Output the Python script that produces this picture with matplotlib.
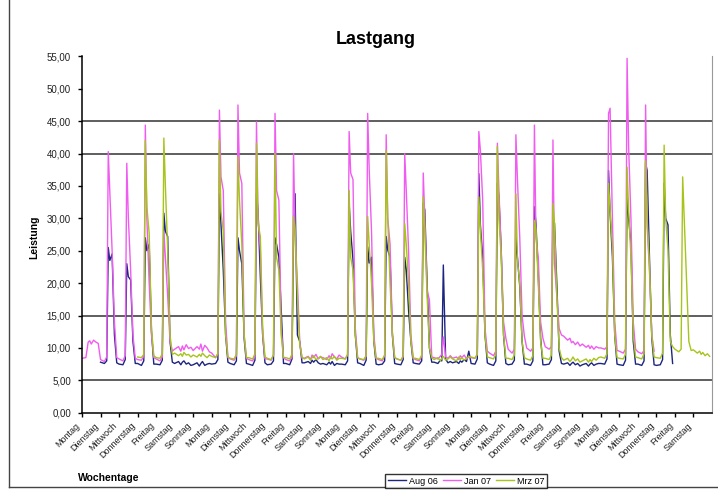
import numpy as np
import matplotlib.pyplot as plt
from matplotlib.lines import Line2D

plt.rcParams['font.family'] = ['Liberation Sans', 'DejaVu Sans']

# Wochentage auf der x-Achse (34 Tage, Start Montag)
tage = (["Montag", "Dienstag", "Mittwoch", "Donnerstag", "Freitag", "Samstag", "Sonntag"] * 5)[:34]
# Stuetzstellen je Tag (Uhrzeit)
stunden = [0, 5, 8, 10, 12, 15, 18, 21]

# Leistung je Tag an den Stuetzstellen, None = kein Messwert
aug06 = [
    None,
    [7.8, 7.6, 8.0, 25.5, 23.5, 24.5, 12.0, 7.7],
    [7.5, 7.4, 8.2, 23.0, 21.0, 20.5, 11.0, 7.6],
    [7.6, 7.3, 8.0, 27.0, 25.0, 26.0, 12.5, 7.5],
    [7.5, 7.4, 8.1, 30.8, 28.0, 27.2, 11.0, 7.8],
    [7.6, 7.9, 7.4, 7.8, 8.0, 7.5, 7.7, 7.3],
    [7.4, 7.7, 7.2, 7.6, 7.9, 7.3, 7.5, 7.6],
    [7.5, 7.6, 8.2, 33.8, 29.2, 22.0, 12.0, 7.8],
    [7.6, 7.4, 8.0, 27.0, 25.0, 23.0, 11.5, 7.6],
    [7.5, 7.3, 8.1, 33.8, 31.3, 21.0, 12.0, 7.7],
    [7.4, 7.5, 8.0, 27.0, 26.0, 24.0, 16.0, 7.6],
    [7.6, 7.4, 8.3, 27.0, 33.8, 12.0, 11.0, 7.7],
    [7.7, 7.9, 7.6, 8.1, 7.8, 8.2, 7.7, 7.5],
    [7.6, 7.4, 7.8, 7.5, 7.9, 7.3, 7.6, 7.5],
    [7.5, 7.4, 8.0, 32.3, 28.0, 23.6, 12.0, 7.7],
    [7.6, 7.3, 8.1, 25.6, 23.1, 24.0, 11.0, 7.5],
    [7.4, 7.5, 8.0, 27.2, 25.1, 24.0, 12.0, 7.6],
    [7.5, 7.4, 8.2, 24.0, 22.0, 15.8, 11.0, 7.7],
    [7.6, 7.5, 8.0, 32.3, 31.3, 20.0, 10.0, 7.8],
    [7.8, 7.6, 8.1, 8.0, 22.8, 8.3, 7.7, 7.9],
    [7.7, 7.9, 7.6, 8.0, 7.8, 8.2, 7.9, 9.5],
    [7.6, 7.5, 8.3, 36.9, 29.0, 24.1, 12.0, 7.7],
    [7.5, 7.3, 8.0, 35.4, 33.3, 25.0, 12.0, 7.6],
    [7.4, 7.5, 8.1, 27.2, 24.0, 19.5, 11.0, 7.5],
    [7.5, 7.3, 8.0, 31.8, 29.2, 21.0, 11.5, 7.4],
    [7.4, 7.5, 8.2, 30.3, 29.2, 20.0, 9.5, 7.6],
    [7.5, 7.7, 7.3, 7.6, 7.8, 7.4, 7.6, 7.2],
    [7.4, 7.6, 7.2, 7.5, 7.7, 7.3, 7.5, 7.6],
    [7.6, 7.5, 8.3, 37.4, 30.8, 24.1, 12.0, 7.5],
    [7.4, 7.3, 8.1, 33.8, 30.0, 26.1, 11.0, 7.5],
    [7.5, 7.3, 8.0, 38.5, 37.4, 24.0, 11.5, 7.4],
    [7.3, 7.4, 8.2, 35.4, 30.0, 29.0, 12.0, 7.6],
    None,
    None,
]

jan07 = [
    [8.4, 8.5, 10.9, 11.1, 10.6, 11.2, 10.9, 10.7],
    [8.2, 7.9, 8.6, 40.3, 34.3, 25.0, 14.0, 8.5],
    [8.3, 8.0, 8.8, 38.5, 30.2, 22.0, 12.0, 8.4],
    [8.2, 8.1, 8.7, 44.4, 30.0, 20.0, 12.0, 8.5],
    [8.3, 8.0, 8.6, 28.0, 24.0, 18.0, 11.0, 9.5],
    [9.8, 10.2, 9.5, 10.3, 9.7, 10.5, 9.9, 10.1],
    [9.6, 10.2, 9.8, 10.6, 9.5, 10.4, 10.0, 9.4],
    [9.2, 8.5, 9.0, 46.7, 36.4, 34.3, 14.0, 8.5],
    [8.3, 8.1, 8.8, 47.5, 37.0, 35.4, 12.0, 8.4],
    [8.2, 8.0, 8.7, 44.9, 30.0, 25.0, 12.0, 8.3],
    [8.3, 8.1, 8.9, 46.2, 34.3, 32.8, 13.0, 8.5],
    [8.2, 8.0, 8.6, 40.0, 27.7, 20.0, 11.0, 8.4],
    [8.4, 8.7, 8.2, 8.9, 8.5, 9.0, 8.3, 8.6],
    [8.5, 8.2, 8.8, 8.4, 9.1, 8.6, 8.3, 8.9],
    [8.6, 8.3, 8.9, 43.4, 37.0, 36.0, 13.0, 8.5],
    [8.3, 8.1, 8.7, 46.2, 37.5, 28.0, 12.0, 8.4],
    [8.2, 8.0, 8.8, 42.9, 30.0, 26.0, 12.5, 8.5],
    [8.3, 8.1, 8.6, 40.0, 34.3, 25.0, 12.0, 8.4],
    [8.2, 8.0, 8.7, 37.0, 30.0, 18.9, 17.4, 8.6],
    [8.5, 8.3, 8.7, 9.0, 11.7, 8.6, 8.4, 8.8],
    [8.4, 8.6, 8.2, 8.8, 8.5, 8.9, 8.3, 8.6],
    [8.5, 8.4, 9.0, 43.4, 40.5, 32.8, 13.0, 9.5],
    [9.2, 8.8, 9.5, 41.6, 34.3, 25.0, 14.0, 11.5],
    [9.8, 9.2, 9.8, 42.9, 36.0, 27.0, 15.0, 11.8],
    [10.0, 9.5, 10.0, 44.4, 27.0, 24.0, 14.0, 11.5],
    [10.2, 9.8, 10.2, 42.1, 23.0, 18.0, 13.0, 12.0],
    [11.8, 11.2, 11.5, 10.8, 11.0, 10.5, 10.9, 10.3],
    [10.6, 10.1, 10.4, 9.9, 10.3, 9.8, 10.2, 10.0],
    [10.0, 9.8, 10.2, 46.2, 47.0, 30.0, 14.0, 9.6],
    [9.5, 9.2, 9.8, 54.7, 41.1, 30.0, 14.0, 9.8],
    [9.4, 9.1, 9.6, 47.5, 28.7, 22.0, 12.0, 9.5],
    None,
    None,
    None,
]

mrz07 = [
    None,
    None,
    None,
    [8.6, 8.5, 9.0, 42.0, 31.8, 27.7, 13.0, 8.8],
    [8.5, 8.4, 9.1, 42.4, 35.0, 25.0, 12.0, 9.0],
    [9.2, 8.8, 9.1, 8.7, 9.3, 8.9, 9.0, 8.6],
    [8.9, 8.6, 9.0, 8.7, 9.2, 8.8, 8.5, 8.9],
    [8.7, 8.5, 9.2, 42.1, 31.0, 28.0, 12.0, 8.6],
    [8.4, 8.3, 9.0, 39.5, 32.8, 26.0, 12.0, 8.5],
    [8.5, 8.3, 9.1, 41.6, 29.2, 27.2, 13.0, 8.6],
    [8.4, 8.2, 8.9, 40.0, 24.0, 22.0, 12.0, 8.5],
    [8.5, 8.3, 9.0, 30.3, 28.2, 18.0, 10.5, 8.6],
    [8.3, 8.6, 8.1, 8.5, 8.8, 8.2, 8.4, 8.7],
    [8.2, 8.5, 8.0, 8.6, 8.3, 8.7, 8.1, 8.4],
    [8.4, 8.3, 9.0, 34.3, 24.0, 22.0, 12.0, 8.5],
    [8.3, 8.2, 8.8, 30.3, 26.0, 20.0, 11.0, 8.4],
    [8.4, 8.2, 8.9, 40.5, 30.0, 20.0, 12.0, 8.5],
    [8.3, 8.1, 8.8, 29.2, 26.0, 20.0, 11.0, 8.4],
    [8.4, 8.2, 8.9, 33.3, 28.0, 18.0, 10.0, 8.5],
    [8.2, 8.5, 8.0, 8.4, 8.7, 8.1, 8.3, 8.6],
    [8.3, 8.0, 8.6, 8.2, 8.5, 8.1, 8.4, 8.7],
    [8.6, 8.4, 9.0, 33.3, 28.2, 22.0, 12.0, 8.6],
    [8.5, 8.3, 9.0, 41.1, 30.0, 24.0, 12.0, 8.4],
    [8.4, 8.2, 8.9, 33.8, 23.5, 20.0, 11.0, 8.5],
    [8.3, 8.1, 8.8, 29.7, 28.2, 20.0, 11.0, 8.4],
    [8.4, 8.2, 8.9, 32.3, 29.2, 18.0, 10.0, 8.5],
    [8.1, 8.4, 7.9, 8.2, 8.6, 8.0, 8.3, 7.8],
    [8.0, 8.3, 7.8, 8.2, 7.9, 8.4, 8.1, 8.5],
    [8.6, 8.4, 9.1, 35.4, 31.3, 25.6, 12.0, 8.5],
    [8.4, 8.3, 9.0, 37.9, 31.3, 24.1, 12.0, 8.6],
    [8.5, 8.3, 9.1, 38.9, 30.0, 22.5, 12.0, 8.6],
    [8.5, 8.4, 9.2, 41.3, 30.0, 25.1, 11.0, 10.2],
    [9.8, 9.4, 9.8, 36.4, 30.0, 20.0, 11.0, 9.6],
    [9.7, 9.2, 9.5, 9.0, 9.3, 8.8, 9.1, 8.7],
]

serien = [("Aug 06", aug06, "#1c2580"), ("Jan 07", jan07, "#f05cf0"), ("Mrz 07", mrz07, "#a6c41c")]


def zeitreihe(tageswerte):
    xs, ys = [], []
    for tag, werte in enumerate(tageswerte):
        if werte is None:
            continue
        for h, w in zip(stunden, werte):
            xs.append(tag + h / 24)
            ys.append(w)
    return np.array(xs), np.array(ys)


fig = plt.figure(figsize=(7.18, 4.93), dpi=100)
ax = fig.add_axes([82 / 718, 1 - 412.7 / 493, 630 / 718, 356.3 / 493])

for name, werte, farbe in serien:
    x, y = zeitreihe(werte)
    ax.plot(x, y, color=farbe, lw=1.0, label=name)

for g in [5, 15, 40, 45]:
    ax.axhline(g, color="#333333", lw=1.1, zorder=0)

ax.set_xlim(0, 34)
ax.set_ylim(0, 55)
ax.set_yticks(np.arange(0, 56, 5))
ax.set_yticklabels([f"{v:.2f}".replace(".", ",") for v in np.arange(0, 56, 5)], fontsize=7, color="#222222")
ax.set_xticks(np.arange(len(tage)))
ax.set_xticklabels(tage, rotation=45, ha="right", fontsize=6.5, color="#222222")
ax.tick_params(axis="y", length=3, width=1, pad=5)
ax.tick_params(axis="x", length=3, width=1, pad=3)

ax.spines["top"].set_visible(False)
ax.spines["right"].set_color("#999999")
ax.spines["left"].set_linewidth(1.1)
ax.spines["bottom"].set_linewidth(1.1)

fig.text(376 / 718, 1 - 40 / 493, "Lastgang", ha="center", va="center", fontsize=13, fontweight="bold")
fig.text(34 / 718, 1 - 237 / 493, "Leistung", ha="center", va="center", rotation=90, fontsize=7.5, fontweight="bold")
fig.text(109 / 718, 1 - 478 / 493, "Wochentage", ha="center", va="center", fontsize=7.5, fontweight="bold")

handles = [Line2D([], [], color=f, lw=1) for _, _, f in serien]
fig.legend(handles, [s[0] for s in serien], loc="center", bbox_to_anchor=(466 / 718, 1 - 481 / 493),
           ncol=3, fontsize=6.5, frameon=True, fancybox=False, edgecolor="black",
           handlelength=2, handletextpad=0.3, columnspacing=0.6, borderpad=0.3)

# Rahmen des Diagrammbereichs (links und unten sichtbar)
fig.add_artist(Line2D([9 / 718, 9 / 718], [1 - 487 / 493, 1], transform=fig.transFigure, color="#444444", lw=1))
fig.add_artist(Line2D([9 / 718, 1], [1 - 487 / 493, 1 - 487 / 493], transform=fig.transFigure, color="#444444", lw=1))

fig.savefig("out.png", dpi=100)
